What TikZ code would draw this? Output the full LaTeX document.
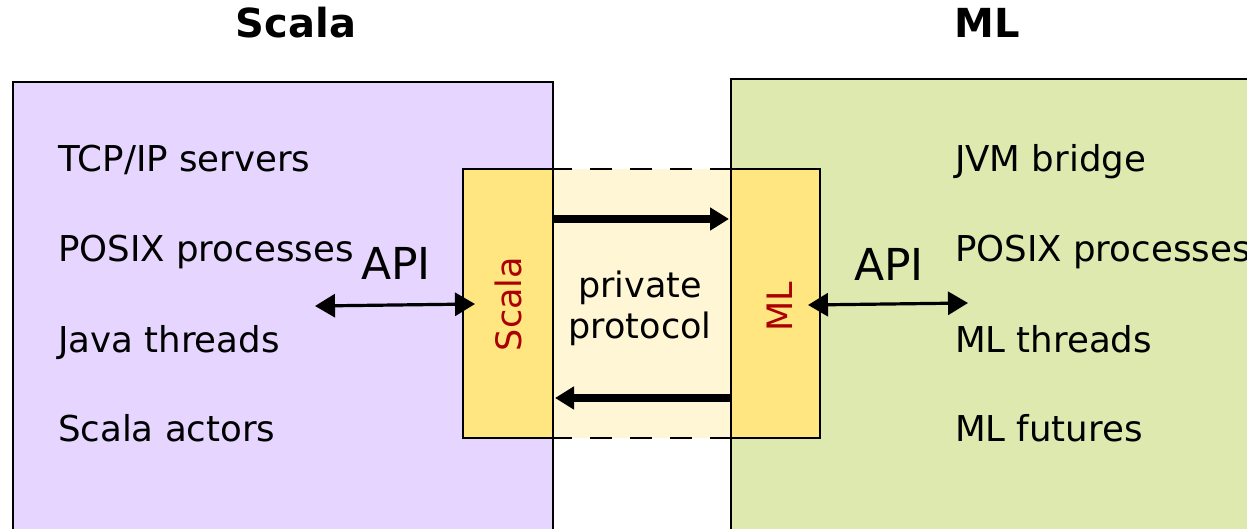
\documentclass[tikz,border=0pt]{standalone}
\usepackage{fontspec}
\setmainfont{DejaVu Sans}
\usetikzlibrary{arrows.meta,calc}
\definecolor{mypurple}{RGB}{229,213,255}
\definecolor{mygreen}{RGB}{221,233,175}
\definecolor{myyellow}{RGB}{255,230,128}
\definecolor{mycream}{RGB}{255,246,213}
\definecolor{myred}{RGB}{170,0,0}

\begin{document}
\begin{tikzpicture}[x=.5pt,y=-.5pt,outer sep=0pt,
            boxb/.style={
                draw=black,
                line width=1pt,
                inner sep=0pt,
                anchor=north west},
            purpleb/.style={boxb,fill=mypurple,minimum width=270pt,minimum height=300pt},
            greenb/.style={boxb,fill=mygreen,minimum width=300pt,minimum height=300pt},
            adapterb/.style={boxb,fill=myyellow,line width=1.3pt,minimum width=45pt,minimum height=134.5pt},
            protob/.style={fill=mycream,inner sep=0pt,anchor=north west,minimum width=89pt,minimum height=134.5pt},
            dashline/.style={line width=1.2pt,dash pattern=on 11pt off 9pt,dash phase=1.5pt},
            msgarrow/.style={line width=4pt,-{Triangle[length=9.5pt,width=11pt]}},
            apiarrow/.style={line width=1.6pt,{Triangle[length=10pt,width=11.5pt]}-{Triangle[length=10pt,width=11.5pt]}},
            listtext/.style={anchor=base west,inner sep=0pt,font=\fontsize{17.8}{21}\selectfont},
            titletext/.style={anchor=base,inner sep=0pt,font=\fontsize{20}{24}\selectfont\bfseries},
            apitext/.style={anchor=base,inner sep=0pt,font=\fontsize{22}{26}\selectfont},
            adaptertext/.style={inner sep=0pt,rotate=90,text=myred,font=\fontsize{17.5}{21}\selectfont},
        ]
        \useasboundingbox (0,0) rectangle (1247,529);
        \clip (0,0) rectangle (1247,529);

        \node[purpleb] (ScalaBox) at (13,82) {};
        \node[greenb] (MLBox) at (731,79) {};

        \node[protob] (Proto) at (553,169) {};
        \draw[dashline] (Proto.north west) -- (Proto.north east);
        \draw[dashline] (Proto.south west) -- (Proto.south east);

        \node[adapterb] (ScalaAdp) at (463,169) {};
        \node[adapterb,minimum width=44.5pt] (MLAdp) at (731,169) {};
        \node[adaptertext] (ScalaAdpText) at ($(ScalaAdp.center)+(0,0.5)$) {Scala};
        \node[adaptertext] (MLAdpText) at ($(MLAdp.center)+(4.5,3.5)$) {ML};

        \node[font=\fontsize{17.5}{20.5}\selectfont,align=center,inner sep=0pt] (ProtoText) at (640,308) {private\\protocol};

        % messages between the two sides
        \coordinate (TopLane) at (0,219);
        \coordinate (BottomLane) at (0,398);
        \draw[msgarrow,shorten >=1pt] (ScalaAdp.east |- TopLane) -- (MLAdp.west |- TopLane);
        \draw[msgarrow,shorten >=1pt] (MLAdp.west |- BottomLane) -- (ScalaAdp.east |- BottomLane);

        \coordinate (ScalaAPI) at (315,306);
        \coordinate (MLAPI) at (968,303);
        \draw[apiarrow] (ScalaAPI) -- ($(ScalaAdp.west)+(12,0.5)$);
        \draw[apiarrow] ($(MLAdp.east)+(-12,1.5)$) -- (MLAPI);
        \node[apitext] (ScalaAPIText) at (396,279) {API};
        \node[apitext] (MLAPIText) at (889,280) {API};

        \node[titletext] (ScalaTitle) at (296,38) {Scala};
        \node[titletext] (MLTitle) at (987,38) {ML};

        \node[listtext] (TCP) at (58,172) {TCP/IP servers};
        \node[listtext] (PosixS) at (58,262) {POSIX processes};
        \node[listtext] (Java) at (58,352) {Java threads};
        \node[listtext] (Actors) at (58,441) {Scala actors};

        \node[listtext] (JVM) at (955,172) {JVM bridge};
        \node[listtext] (PosixM) at (955,262) {POSIX processes};
        \node[listtext] (MLThreads) at (955,352) {ML threads};
        \node[listtext] (Futures) at (955,441) {ML futures};
    \end{tikzpicture}
\end{document}
